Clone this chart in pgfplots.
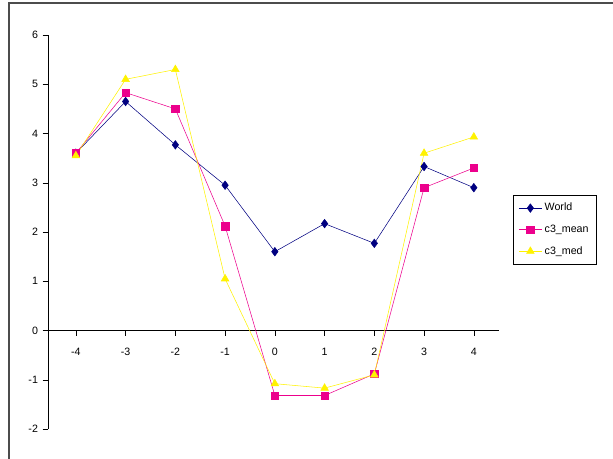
\documentclass[border=0pt]{standalone}
\usepackage{pgfplots}
\pgfplotsset{compat=1.18}
\usepackage{fontspec}
\setmainfont{Liberation Sans}
\begin{document}
\begin{tikzpicture}[x=0.75pt,y=0.75pt]
\useasboundingbox (0,0) rectangle (613,458);
\draw[black!70,line width=0.8pt] (9,-5) -- (9,455) -- (620,455);
\begin{scope}[shift={(48,29)}]
\begin{axis}[scale only axis,
 width=450.7*0.75pt, height=394*0.75pt,
 xmin=-4.56, xmax=4.5, ymin=-2, ymax=6,
 axis y line=left, axis x line=middle, axis line style={-},
 xtick={-4,...,4}, ytick={-2,...,6},
 tick align=outside, major tick length=4pt, tick style={black},
 x tick label style={yshift=-6pt},
 tick label style={font=\footnotesize},
 /pgf/number format/assume math mode=true,
 clip=false,
 legend style={at={(1.032,0.594)}, anchor=north west, font=\footnotesize, draw=black, row sep=5pt, inner sep=4pt, cells={anchor=west}},
 legend cell align=left]
\addplot[color={rgb,255:red,0;green,0;blue,128}, mark=diamond*, mark size=3.2pt] coordinates {(-4,3.6)(-3,4.65)(-2,3.77)(-1,2.95)(0,1.6)(1,2.17)(2,1.77)(3,3.33)(4,2.9)};
\addplot[color=magenta, mark=square*, mark size=2.8pt] coordinates {(-4,3.6)(-3,4.83)(-2,4.5)(-1,2.12)(0,-1.32)(1,-1.32)(2,-0.88)(3,2.9)(4,3.3)};
\addplot[color=yellow, mark=triangle*, mark size=3.3pt] coordinates {(-4,3.55)(-3,5.1)(-2,5.3)(-1,1.05)(0,-1.08)(1,-1.17)(2,-0.9)(3,3.6)(4,3.93)};
\legend{World,c3\_mean,c3\_med}
\end{axis}
\end{scope}
\end{tikzpicture}
\end{document}
